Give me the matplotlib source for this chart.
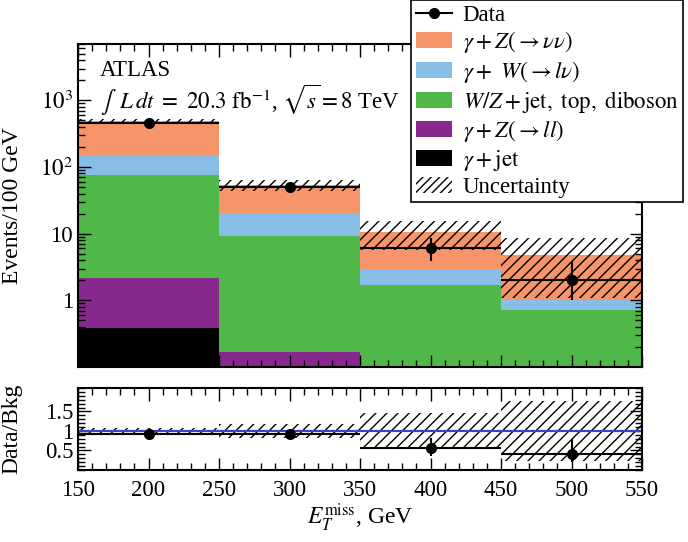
import numpy as np
import matplotlib
matplotlib.use("Agg")
import matplotlib.pyplot as plt
from matplotlib.patches import Patch
from matplotlib.lines import Line2D
from matplotlib.ticker import MultipleLocator, FixedLocator, LogLocator, NullFormatter

plt.rcParams['font.family'] = ['Liberation Serif', 'DejaVu Serif']
plt.rcParams['mathtext.fontset'] = 'stix'
plt.rcParams['font.size'] = 14.5
plt.rcParams['hatch.color'] = 'black'
plt.rcParams['hatch.linewidth'] = 1.0

# binning in MET [GeV]
edges = [150, 250, 350, 450, 550]
centers = [200, 300, 400, 500]

# stacked backgrounds, events / 100 GeV (bottom to top)
bkg_gjet = [0.38, 0.0, 0.0, 0.0]
bkg_zll = [1.82, 0.17, 0.0, 0.0]
bkg_wzjet = [73.4, 9.0, 1.68, 0.71]
bkg_wlnu = [72.0, 11.2, 1.3, 0.29]
bkg_znunu = [340.0, 34.0, 7.6, 3.8]
bkg_unc = [35.0, 10.0, 4.8, 3.7]

data = [455, 50, 6, 2]
data_err_lo = [21, 7, 2.1, 1.0]
data_err_hi = [22, 7.5, 2.7, 1.8]

stack = [
    (bkg_gjet, 'black', r'$\gamma + \mathrm{jet}$'),
    (bkg_zll, '#86288c', r'$\gamma + Z(\rightarrow ll)$'),
    (bkg_wzjet, '#50b848', r'$W/Z + \mathrm{jet,\ top,\ diboson}$'),
    (bkg_wlnu, '#88bde6', r'$\gamma +\ W(\rightarrow l\nu)$'),
    (bkg_znunu, '#f7956a', r'$\gamma + Z(\rightarrow \nu\nu)$'),
]

fig = plt.figure(figsize=(6.88, 5.42), dpi=100)
ax = fig.add_axes([78/688, 175/542, 564/688, 323/542])
ax2 = fig.add_axes([78/688, 72/542, 564/688, 82/542])

left = np.array(edges[:-1])
width = np.diff(edges)
bottom = np.zeros(4)
for vals, col, lab in stack:
    ax.bar(left, vals, width=width, bottom=bottom, align='edge', color=col,
           linewidth=0)
    bottom = bottom + np.array(vals)
total = bottom
unc = np.array(bkg_unc)

ax.bar(left, 2*unc, width=width, bottom=total-unc, align='edge', fill=False,
       hatch='///', edgecolor='black', linewidth=0)
ax.errorbar(centers, data, xerr=50, yerr=[data_err_lo, data_err_hi], fmt='o',
            color='black', ms=7, elinewidth=1.5, capsize=0)

ax.set_yscale('log')
ax.set_ylim(0.1, 7000)
ax.set_xlim(150, 550)
ax.set_yticks([1, 10, 100, 1000])
ax.set_yticklabels(['1', '10', r'$10^2$', r'$10^3$'])
ax.yaxis.set_minor_locator(LogLocator(base=10, subs=np.arange(2, 10)))
ax.yaxis.set_minor_formatter(NullFormatter())
ax.xaxis.set_major_locator(MultipleLocator(50))
ax.xaxis.set_minor_locator(MultipleLocator(10))
ax.set_xticklabels([])
ax.set_ylabel('Events/100 GeV', fontsize=17)
ax.yaxis.set_label_coords(-0.098, 0.5)

ax.text(0.039, 0.918, 'ATLAS', transform=ax.transAxes, va='center', fontsize=16.5)
ax.text(0.039, 0.826,
        r'$\int\;\;L\,dt\ =\ 20.3\ \mathrm{fb}^{-1}$, $\sqrt{s} = 8$ TeV',
        transform=ax.transAxes, va='center', fontsize=16.5)

# ratio panel
ratio = np.array(data) / total
rel_unc = unc / total
ax2.bar(left, 2*rel_unc, width=width, bottom=1-rel_unc, align='edge', fill=False,
        hatch='///', edgecolor='black', linewidth=0)
ax2.axhline(1, color='#4040c0', lw=1.6)
ax2.errorbar(centers, ratio, xerr=50,
             yerr=[np.array(data_err_lo)/total, np.array(data_err_hi)/total],
             fmt='o', color='black', ms=7, elinewidth=1.5, capsize=0)
ax2.set_xlim(150, 550)
ax2.set_ylim(0, 2.1)
ax2.yaxis.set_major_locator(FixedLocator([0.5, 1, 1.5]))
ax2.set_yticklabels(['0.5', '1', '1.5'])
ax2.yaxis.set_minor_locator(MultipleLocator(0.1))
ax2.xaxis.set_major_locator(MultipleLocator(50))
ax2.xaxis.set_minor_locator(MultipleLocator(10))
ax2.set_ylabel('Data/Bkg', fontsize=17)
ax2.yaxis.set_label_coords(-0.098, 0.5)
ax2.set_xlabel(r'$E_T^{\mathrm{miss}}$, GeV', fontsize=17, labelpad=1)

for a in (ax, ax2):
    a.tick_params(which='both', direction='in', top=True, right=True, labelsize=16.5)
    a.tick_params(which='major', length=9, width=1)
    a.tick_params(which='minor', length=5, width=1)
    for s in a.spines.values():
        s.set_linewidth(1.5)
ax2.tick_params(axis='x', pad=7)

handles = [Line2D([], [], color='black', marker='o', ms=7, lw=1.5)]
labels = ['Data']
for vals, col, lab in reversed(stack):
    handles.append(Patch(facecolor=col, edgecolor='none'))
    labels.append(lab)
handles.append(Patch(facecolor='none', edgecolor='black', hatch='////', linewidth=0))
labels.append('Uncertainty')
leg = fig.legend(handles, labels, loc='upper left', bbox_to_anchor=(411/688, 1.0),
                 fancybox=False, edgecolor='black', framealpha=1, fontsize=16.5,
                 handlelength=1.6, handletextpad=0.45, labelspacing=0.16,
                 borderpad=0.2, borderaxespad=0)
leg.get_frame().set_linewidth(1.2)

fig.savefig('out.png', dpi=100)
